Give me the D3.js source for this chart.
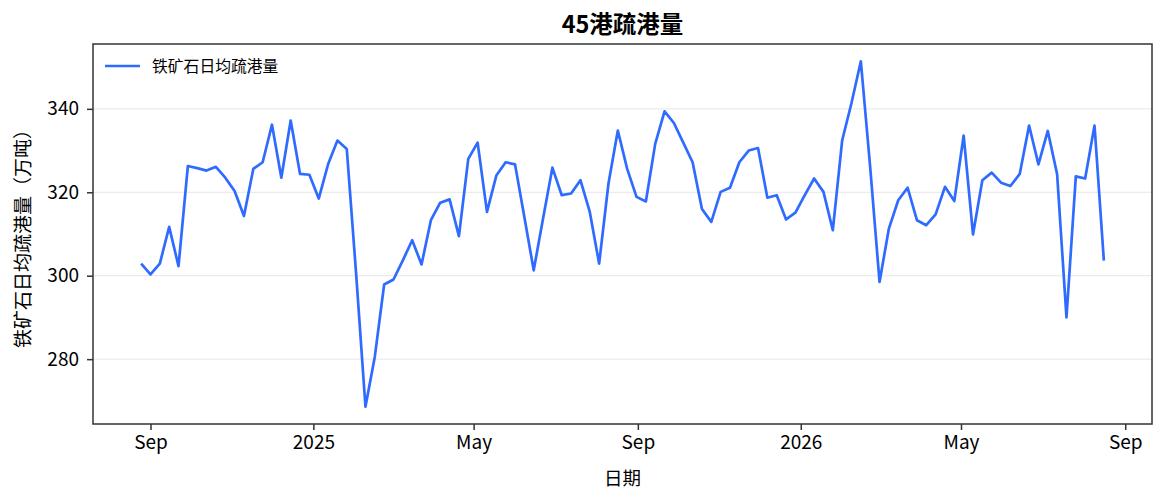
<!DOCTYPE html>
<html>
<head>
<meta charset="utf-8">
<script src="https://cdn.jsdelivr.net/npm/d3@7"></script>
<style>
  body { margin: 0; background: #fff; }
  text { font-family: "Noto Sans CJK SC", "Noto Sans", sans-serif; fill: #000; }
</style>
</head>
<body>
<div id="Container"></div>
<script>
// weekly series, first week starts 2024-08-25
var startDate = new Date(2024, 7, 25);
var stepDays = 7;
var seriesName = '铁矿石日均疏港量';
var values = [
  302.9, 300.3, 302.9, 311.7, 302.3, 326.3, 325.8, 325.2, 326.1, 323.5,
  320.3, 314.3, 325.6, 327.2, 336.2, 323.5, 337.2, 324.4, 324.2, 318.5,
  326.7, 332.4, 330.4, 300.5, 268.6, 280.6, 297.9, 299.1, 303.7, 308.5,
  302.7, 313.3, 317.5, 318.3, 309.5, 328.0, 331.9, 315.3, 324.0, 327.2,
  326.7, 314.1, 301.3, 313.7, 325.9, 319.3, 319.7, 322.9, 315.3, 302.9,
  322.1, 334.8, 325.6, 318.9, 317.8, 331.6, 339.4, 336.6, 331.9, 327.2,
  316.0, 312.9, 320.1, 321.1, 327.2, 330.0, 330.6, 318.7, 319.3, 313.5,
  315.1, 319.3, 323.3, 320.1, 310.9, 332.4, 341.4, 351.4, 326.0, 298.5,
  311.3, 318.1, 321.1, 313.3, 312.1, 314.7, 321.3, 317.9, 333.6, 309.9,
  322.9, 324.7, 322.3, 321.5, 324.4, 336.0, 326.7, 334.7, 324.3, 290.0,
  323.8, 323.3, 336.0, 303.6
];
var yTicks = [280, 300, 320, 340];

var W = 1166, H = 503;
var margin = { top: 44, right: 14, bottom: 79, left: 93 };
var w = W - margin.left - margin.right,
    h = H - margin.top - margin.bottom;

var data = values.map(function(v, i) {
  return { date: d3.timeDay.offset(startDate, i * stepDays), value: v };
});

var canvas = d3.select('#Container').append('svg')
    .attr('width', W)
    .attr('height', H);
var svg = canvas.append('g')
    .attr('transform', 'translate(' + margin.left + ',' + margin.top + ')');

// matplotlib style 5% padding
var xExt = d3.extent(data, function(d) { return d.date; });
var xPad = (xExt[1] - xExt[0]) * 0.05;
var x = d3.scaleTime()
    .domain([new Date(+xExt[0] - xPad), new Date(+xExt[1] + xPad)])
    .range([0, w]);

var yExt = d3.extent(values);
var yPad = (yExt[1] - yExt[0]) * 0.05;
var y = d3.scaleLinear()
    .domain([yExt[0] - yPad, yExt[1] + yPad])
    .range([h, 0]);

// grid
svg.selectAll('line.grid')
    .data(yTicks)
    .enter()
    .append('line')
        .attr('class', 'grid')
        .attr('x1', 0)
        .attr('x2', w)
        .attr('y1', function(d) { return y(d); })
        .attr('y2', function(d) { return y(d); })
        .attr('stroke', '#ebebeb')
        .attr('stroke-width', 1.2);

var fmt = function(d) {
  return d.getMonth() === 0 ? d3.timeFormat('%Y')(d) : d3.timeFormat('%b')(d);
};

var xax = svg.append('g')
    .attr('class', 'xax')
    .attr('transform', 'translate(0,' + h + ')')
    .call(d3.axisBottom(x).ticks(d3.timeMonth.every(4)).tickFormat(fmt).tickSizeOuter(0).tickSize(6).tickPadding(6));

var yax = svg.append('g')
    .attr('class', 'yax')
    .call(d3.axisLeft(y).tickValues(yTicks).tickSizeOuter(0).tickSize(6).tickPadding(8));

[xax, yax].forEach(function(a) {
  a.select('.domain').remove();
  a.selectAll('line').attr('stroke', '#333').attr('stroke-width', 1.5);
  a.selectAll('text').attr('font-size', 19).attr('fill', '#000')
      .style('font-family', '"Noto Sans CJK SC", sans-serif');
});

// line
var line = d3.line()
    .x(function(d) { return x(d.date); })
    .y(function(d) { return y(d.value); });

svg.append('path')
    .datum(data)
    .attr('d', line)
    .attr('fill', 'none')
    .attr('stroke', '#2F6BFF')
    .attr('stroke-width', 2.7)
    .attr('stroke-linejoin', 'round');

// frame
svg.append('rect')
    .attr('width', w)
    .attr('height', h)
    .attr('fill', 'none')
    .attr('stroke', '#333')
    .attr('stroke-width', 1.5);

// legend
svg.append('line')
    .attr('x1', 12).attr('x2', 47)
    .attr('y1', 22).attr('y2', 22)
    .attr('stroke', '#2F6BFF')
    .attr('stroke-width', 2.7);
svg.append('text')
    .attr('x', 59)
    .attr('y', 28)
    .attr('font-size', 15.8)
    .text(seriesName);

// titles
canvas.append('text')
    .attr('x', margin.left + w / 2)
    .attr('y', 33)
    .attr('text-anchor', 'middle')
    .attr('font-size', 23.5)
    .style('font-weight', 'bold')
    .text('45港疏港量');

canvas.append('text')
    .attr('x', margin.left + w / 2)
    .attr('y', 485)
    .attr('text-anchor', 'middle')
    .attr('font-size', 18.5)
    .text('日期');

canvas.append('text')
    .attr('transform', 'translate(30,' + (margin.top + h / 2) + ')rotate(-90)')
    .attr('text-anchor', 'middle')
    .attr('font-size', 19)
    .text('铁矿石日均疏港量（万吨）');
</script>
</body>
</html>
